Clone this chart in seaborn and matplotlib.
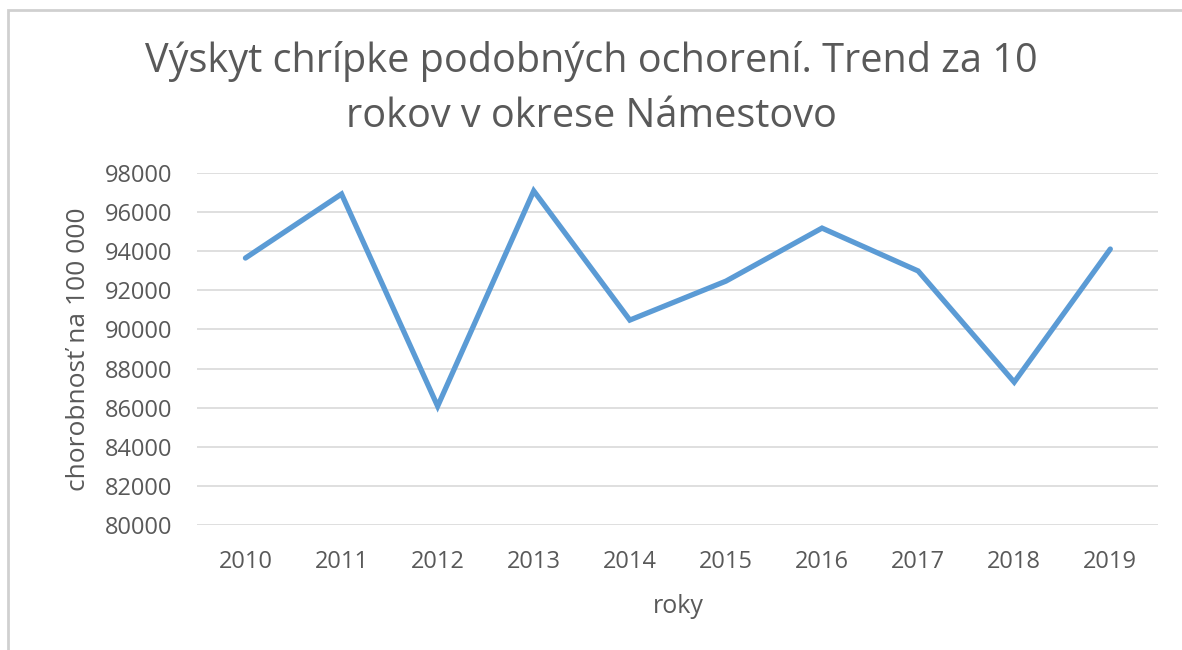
import matplotlib
matplotlib.use("Agg")
import matplotlib.pyplot as plt
from matplotlib.patches import Rectangle
import pandas as pd
import seaborn as sns

# data
years = ["2010", "2011", "2012", "2013", "2014", "2015", "2016", "2017", "2018", "2019"]
incidence = [93650, 96920, 86080, 97080, 90480, 92470, 95180, 92990, 87310, 94110]
y_ticks = list(range(80000, 98001, 2000))

TEXT = "#595959"
LINE = "#5B9BD5"
GRID = "#D9D9D9"

sns.set_theme(style="white")
plt.rcParams["font.family"] = ["Open Sans", "DejaVu Sans"]

df = pd.DataFrame({"rok": years, "chorobnost": incidence})

fig = plt.figure(figsize=(11.82, 6.5), dpi=100)
ax = fig.add_axes([0.167, 0.192, 0.813, 0.542])

sns.lineplot(data=df, x="rok", y="chorobnost", ax=ax, color=LINE,
             linewidth=3.8, solid_capstyle="round", solid_joinstyle="miter")

ax.set_ylim(80000, 98000)
ax.set_xlim(-0.5, len(years) - 0.5)
ax.set_yticks(y_ticks)
ax.set_yticklabels([str(t) for t in y_ticks])
ax.yaxis.grid(True, color=GRID, linewidth=1.2)
ax.set_axisbelow(True)
for s in ax.spines.values():
    s.set_visible(False)
ax.tick_params(axis="both", length=0, labelsize=17, colors=TEXT)
ax.tick_params(axis="x", pad=18)
ax.tick_params(axis="y", pad=18)

ax.set_xlabel("roky", fontsize=18, color=TEXT, labelpad=14)
ax.set_ylabel("chorobnosť na 100 000", fontsize=19, color=TEXT, labelpad=10)

fig.text(0.5, 0.863, "Výskyt chrípke podobných ochorení. Trend za 10\nrokov v okrese Námestovo",
         ha="center", va="center", fontsize=28.5, color=TEXT, linespacing=1.45)

# thin grey frame like the pasted chart border
fig.add_artist(Rectangle((0.007, -0.1), 1.2, 1.085, transform=fig.transFigure,
                         fill=False, edgecolor="#D0D0D0", linewidth=2))

fig.savefig("out.png", dpi=100, facecolor="white")
